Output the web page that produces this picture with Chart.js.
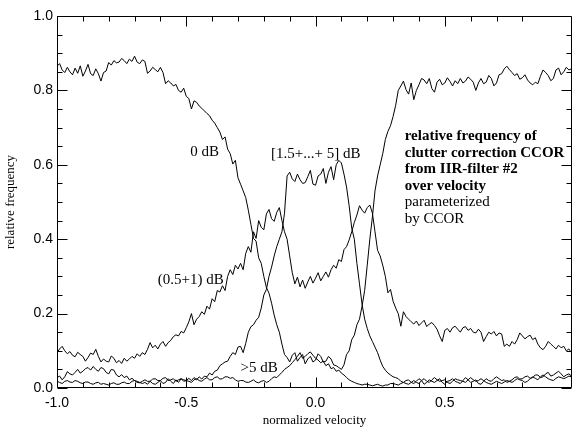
<!DOCTYPE html>
<html>
<head>
<meta charset="utf-8">
<script src="https://cdn.jsdelivr.net/npm/chart.js@4.4.1/dist/chart.umd.min.js"></script>
<style>
  html, body { margin: 0; padding: 0; background: #fff; }
  #wrap { width: 579px; height: 428px; position: relative; }
</style>
</head>
<body>
<div id="wrap"><canvas id="chart"></canvas></div>
<script>
// velocity bins (normalized)
const velocity = [
  -1.00, -0.99, -0.98, -0.97, -0.96, -0.95, -0.94, -0.93, -0.92, -0.91,
  -0.90, -0.89, -0.88, -0.87, -0.86, -0.85, -0.84, -0.83, -0.82, -0.81,
  -0.80, -0.79, -0.78, -0.77, -0.76, -0.75, -0.74, -0.73, -0.72, -0.71,
  -0.70, -0.69, -0.68, -0.67, -0.66, -0.65, -0.64, -0.63, -0.62, -0.61,
  -0.60, -0.59, -0.58, -0.57, -0.56, -0.55, -0.54, -0.53, -0.52, -0.51,
  -0.50, -0.49, -0.48, -0.47, -0.46, -0.45, -0.44, -0.43, -0.42, -0.41,
  -0.40, -0.39, -0.38, -0.37, -0.36, -0.35, -0.34, -0.33, -0.32, -0.31,
  -0.30, -0.29, -0.28, -0.27, -0.26, -0.25, -0.24, -0.23, -0.22, -0.21,
  -0.20, -0.19, -0.18, -0.17, -0.16, -0.15, -0.14, -0.13, -0.12, -0.11,
  -0.10, -0.09, -0.08, -0.07, -0.06, -0.05, -0.04, -0.03, -0.02, -0.01,
   0.00,  0.01,  0.02,  0.03,  0.04,  0.05,  0.06,  0.07,  0.08,  0.09,
   0.10,  0.11,  0.12,  0.13,  0.14,  0.15,  0.16,  0.17,  0.18,  0.19,
   0.20,  0.21,  0.22,  0.23,  0.24,  0.25,  0.26,  0.27,  0.28,  0.29,
   0.30,  0.31,  0.32,  0.33,  0.34,  0.35,  0.36,  0.37,  0.38,  0.39,
   0.40,  0.41,  0.42,  0.43,  0.44,  0.45,  0.46,  0.47,  0.48,  0.49,
   0.50,  0.51,  0.52,  0.53,  0.54,  0.55,  0.56,  0.57,  0.58,  0.59,
   0.60,  0.61,  0.62,  0.63,  0.64,  0.65,  0.66,  0.67,  0.68,  0.69,
   0.70,  0.71,  0.72,  0.73,  0.74,  0.75,  0.76,  0.77,  0.78,  0.79,
   0.80,  0.81,  0.82,  0.83,  0.84,  0.85,  0.86,  0.87,  0.88,  0.89,
   0.90,  0.91,  0.92,  0.93,  0.94,  0.95,  0.96,  0.97,  0.98,  0.99
];

// relative frequency per CCOR class
const ccor0dB = [
  0.865, 0.872, 0.855, 0.848, 0.862, 0.850, 0.842, 0.860, 0.846, 0.866,
  0.838, 0.852, 0.870, 0.845, 0.840, 0.858, 0.845, 0.825, 0.848, 0.852,
  0.875, 0.868, 0.880, 0.874, 0.876, 0.886, 0.880, 0.872, 0.884, 0.878,
  0.892, 0.876, 0.872, 0.882, 0.878, 0.846, 0.852, 0.862, 0.856, 0.850,
  0.862, 0.848, 0.818, 0.826, 0.820, 0.812, 0.816, 0.800, 0.795, 0.806,
  0.784, 0.778, 0.750, 0.772, 0.768, 0.758, 0.752, 0.745, 0.738, 0.732,
  0.720, 0.712, 0.700, 0.688, 0.668, 0.675, 0.642, 0.630, 0.602, 0.612,
  0.565, 0.548, 0.530, 0.512, 0.478, 0.440, 0.402, 0.395, 0.350, 0.335,
  0.300, 0.270, 0.255, 0.228, 0.196, 0.170, 0.150, 0.118, 0.090, 0.082,
  0.070, 0.088, 0.095, 0.072, 0.082, 0.090, 0.065, 0.078, 0.085, 0.070,
  0.075, 0.092, 0.085, 0.070, 0.072, 0.085, 0.078, 0.062, 0.060, 0.055,
  0.050, 0.062, 0.090, 0.100, 0.130, 0.142, 0.170, 0.185, 0.220, 0.262,
  0.330, 0.400, 0.460, 0.530, 0.570, 0.600, 0.630, 0.668, 0.690, 0.705,
  0.730, 0.760, 0.800, 0.812, 0.825, 0.802, 0.790, 0.820, 0.775, 0.800,
  0.815, 0.832, 0.828, 0.818, 0.832, 0.805, 0.795, 0.822, 0.830, 0.815,
  0.820, 0.834, 0.824, 0.812, 0.826, 0.818, 0.832, 0.820, 0.825, 0.836,
  0.830, 0.822, 0.800, 0.820, 0.832, 0.818, 0.822, 0.840, 0.832, 0.812,
  0.820, 0.842, 0.845, 0.858, 0.865, 0.856, 0.848, 0.840, 0.845, 0.830,
  0.834, 0.842, 0.828, 0.820, 0.815, 0.822, 0.818, 0.838, 0.855, 0.848,
  0.840, 0.826, 0.832, 0.855, 0.860, 0.842, 0.850, 0.862, 0.855, 0.858
];
const ccor05to1dB = [
  0.095, 0.105, 0.112, 0.100, 0.092, 0.098, 0.088, 0.084, 0.096, 0.090,
  0.085, 0.072, 0.082, 0.094, 0.090, 0.104, 0.085, 0.070, 0.078, 0.072,
  0.070, 0.086, 0.080, 0.068, 0.074, 0.066, 0.080, 0.072, 0.078, 0.085,
  0.080, 0.092, 0.085, 0.095, 0.090, 0.104, 0.122, 0.108, 0.115, 0.105,
  0.118, 0.125, 0.112, 0.122, 0.128, 0.138, 0.143, 0.140, 0.152, 0.148,
  0.162, 0.178, 0.200, 0.170, 0.185, 0.192, 0.205, 0.198, 0.220, 0.212,
  0.240, 0.232, 0.262, 0.258, 0.275, 0.262, 0.300, 0.318, 0.305, 0.330,
  0.320, 0.335, 0.318, 0.362, 0.380, 0.365, 0.420, 0.402, 0.450, 0.432,
  0.425, 0.468, 0.480, 0.455, 0.448, 0.472, 0.485, 0.450, 0.420, 0.400,
  0.355, 0.310, 0.280, 0.298, 0.272, 0.290, 0.268, 0.285, 0.300, 0.282,
  0.295, 0.310, 0.288, 0.300, 0.312, 0.298, 0.318, 0.330, 0.322, 0.345,
  0.340, 0.372, 0.380, 0.398, 0.420, 0.445, 0.465, 0.490, 0.478, 0.470,
  0.485, 0.492, 0.470, 0.420, 0.370, 0.355, 0.330, 0.300, 0.256, 0.265,
  0.233, 0.215, 0.200, 0.166, 0.205, 0.192, 0.185, 0.178, 0.172, 0.180,
  0.168, 0.175, 0.182, 0.165, 0.172, 0.176, 0.168, 0.158, 0.140, 0.125,
  0.155, 0.160, 0.150, 0.162, 0.166, 0.158, 0.150, 0.162, 0.165, 0.155,
  0.160, 0.150, 0.148, 0.158, 0.150, 0.125, 0.138, 0.150, 0.145, 0.152,
  0.140, 0.148, 0.145, 0.112, 0.118, 0.112, 0.125, 0.118, 0.130, 0.148,
  0.140, 0.132, 0.138, 0.142, 0.130, 0.135, 0.118, 0.108, 0.103, 0.112,
  0.125, 0.118, 0.112, 0.105, 0.115, 0.108, 0.112, 0.100, 0.105, 0.095
];
const ccor15to5dB = [
  0.028, 0.032, 0.022, 0.030, 0.044, 0.038, 0.035, 0.042, 0.050, 0.040,
  0.045, 0.052, 0.055, 0.048, 0.058, 0.050, 0.045, 0.055, 0.052, 0.042,
  0.038, 0.050, 0.048, 0.035, 0.030, 0.036, 0.028, 0.032, 0.022, 0.026,
  0.020, 0.018, 0.015, 0.012, 0.015, 0.010, 0.018, 0.012, 0.010, 0.015,
  0.020, 0.012, 0.015, 0.025, 0.018, 0.012, 0.022, 0.015, 0.025, 0.018,
  0.020, 0.026, 0.020, 0.028, 0.022, 0.030, 0.024, 0.032, 0.030, 0.040,
  0.035, 0.045, 0.048, 0.060, 0.065, 0.070, 0.072, 0.085, 0.095, 0.090,
  0.110, 0.112, 0.095, 0.120, 0.150, 0.165, 0.170, 0.182, 0.190, 0.215,
  0.250, 0.265, 0.300, 0.325, 0.355, 0.380, 0.400, 0.420, 0.470, 0.570,
  0.580, 0.562, 0.555, 0.575, 0.560, 0.550, 0.552, 0.568, 0.585, 0.548,
  0.545, 0.570, 0.575, 0.590, 0.550, 0.580, 0.595, 0.560, 0.600, 0.612,
  0.605, 0.575, 0.540, 0.490, 0.430, 0.400, 0.335, 0.280, 0.225, 0.185,
  0.160, 0.140, 0.125, 0.110, 0.095, 0.075, 0.058, 0.048, 0.040, 0.035,
  0.030, 0.028, 0.025, 0.018, 0.015, 0.020, 0.022, 0.015, 0.012, 0.018,
  0.025, 0.020, 0.010, 0.015, 0.022, 0.018, 0.015, 0.020, 0.025, 0.015,
  0.010, 0.018, 0.020, 0.025, 0.018, 0.015, 0.012, 0.020, 0.028, 0.022,
  0.015, 0.018, 0.022, 0.012, 0.010, 0.018, 0.025, 0.020, 0.018, 0.025,
  0.030, 0.025, 0.020, 0.022, 0.015, 0.018, 0.022, 0.028, 0.030, 0.024,
  0.025, 0.030, 0.032, 0.026, 0.028, 0.035, 0.035, 0.028, 0.030, 0.038,
  0.042, 0.032, 0.035, 0.040, 0.045, 0.038, 0.030, 0.035, 0.038, 0.032
];
const ccorAbove5dB = [
  0.018, 0.015, 0.012, 0.018, 0.020, 0.016, 0.015, 0.020, 0.018, 0.014,
  0.012, 0.016, 0.016, 0.012, 0.010, 0.014, 0.015, 0.010, 0.012, 0.010,
  0.008, 0.012, 0.014, 0.010, 0.010, 0.014, 0.016, 0.012, 0.012, 0.018,
  0.020, 0.015, 0.014, 0.018, 0.022, 0.018, 0.018, 0.024, 0.025, 0.020,
  0.020, 0.026, 0.028, 0.020, 0.022, 0.025, 0.018, 0.022, 0.025, 0.022,
  0.020, 0.018, 0.015, 0.022, 0.025, 0.020, 0.018, 0.024, 0.028, 0.022,
  0.022, 0.028, 0.030, 0.024, 0.025, 0.030, 0.030, 0.026, 0.028, 0.022,
  0.018, 0.020, 0.020, 0.016, 0.015, 0.018, 0.022, 0.016, 0.014, 0.018,
  0.020, 0.015, 0.018, 0.025, 0.030, 0.028, 0.035, 0.042, 0.050, 0.055,
  0.060, 0.068, 0.076, 0.085, 0.095, 0.080, 0.085, 0.092, 0.097, 0.088,
  0.080, 0.075, 0.068, 0.072, 0.060, 0.065, 0.052, 0.055, 0.045, 0.048,
  0.040, 0.035, 0.028, 0.022, 0.018, 0.015, 0.012, 0.010, 0.008, 0.010,
  0.010, 0.008, 0.006, 0.008, 0.010, 0.007, 0.005, 0.008, 0.008, 0.012,
  0.012, 0.010, 0.008, 0.012, 0.015, 0.012, 0.010, 0.015, 0.020, 0.015,
  0.012, 0.020, 0.025, 0.018, 0.015, 0.022, 0.028, 0.022, 0.018, 0.020,
  0.022, 0.015, 0.012, 0.018, 0.025, 0.022, 0.020, 0.018, 0.015, 0.022,
  0.028, 0.022, 0.018, 0.020, 0.025, 0.020, 0.015, 0.012, 0.010, 0.014,
  0.018, 0.015, 0.012, 0.016, 0.020, 0.018, 0.015, 0.020, 0.025, 0.022,
  0.020, 0.015, 0.018, 0.025, 0.030, 0.026, 0.022, 0.030, 0.035, 0.030,
  0.025, 0.022, 0.020, 0.026, 0.030, 0.028, 0.025, 0.028, 0.032, 0.030
];

// labelled tick values
const xTickLabels = [-1.0, -0.5, 0.0, 0.5];
const yTickLabels = [0.0, 0.2, 0.4, 0.6, 0.8, 1.0];

// curve labels: text, velocity, frequency
const curveLabels = [
  ["0 dB", -0.485, 0.635],
  ["[1.5+...+ 5] dB", -0.172, 0.63],
  ["(0.5+1) dB", -0.61, 0.29],
  [">5 dB", -0.29, 0.054]
];
const noteBold = [
  "relative frequency of",
  "clutter correction CCOR",
  "from IIR-filter #2",
  "over velocity"
];
const notePlain = ["parameterized", "by CCOR"];

const toPoints = (ys) => ys.map((y, i) => ({ x: velocity[i], y: y }));

const isOn = (v, step) => Math.abs(v / step - Math.round(v / step)) < 1e-6;
const fmt = (v) => (Math.round(v * 10) / 10).toFixed(1);

const series = [ccor0dB, ccor05to1dB, ccor15to5dB, ccorAbove5dB];

// box with inward ticks on all sides, plus the text annotations
const frameAndText = {
  id: "frameAndText",
  afterDraw(chart) {
    const { ctx, chartArea: a, scales } = chart;
    const xs = scales.x, ys = scales.y;
    const L = Math.round(a.left) + 0.5, R = Math.round(a.right) - 0.5;
    const T = Math.round(a.top) + 0.5, B = Math.round(a.bottom) - 0.5;
    ctx.save();
    ctx.strokeStyle = "#000";
    ctx.lineWidth = 1;
    ctx.beginPath();
    ctx.rect(L, T, R - L, B - T);
    xs.ticks.forEach((t) => {
      if (!isOn(t.value, 0.1)) return;
      const len = isOn(t.value, 0.5) ? 10 : 5;
      const px = Math.round(xs.getPixelForValue(t.value)) + 0.5;
      ctx.moveTo(px, B); ctx.lineTo(px, B - len);
      ctx.moveTo(px, T); ctx.lineTo(px, T + len);
    });
    ys.ticks.forEach((t) => {
      if (!isOn(t.value, 0.05)) return;
      const len = isOn(t.value, 0.2) ? 10 : 5;
      const py = Math.round(ys.getPixelForValue(t.value)) + 0.5;
      ctx.moveTo(L, py); ctx.lineTo(L + len, py);
      ctx.moveTo(R, py); ctx.lineTo(R - len, py);
    });
    ctx.stroke();

    ctx.fillStyle = "#000";
    ctx.textBaseline = "middle";
    ctx.textAlign = "left";
    ctx.font = '15px "Liberation Serif"';
    curveLabels.forEach(([txt, v, f]) => {
      ctx.fillText(txt, xs.getPixelForValue(v), ys.getPixelForValue(f));
    });

    const nx = xs.getPixelForValue(0.345);
    let ny = ys.getPixelForValue(0.677);
    ctx.font = 'bold 15px "Liberation Serif"';
    noteBold.forEach((s) => { ctx.fillText(s, nx, ny); ny += 16.5; });
    ctx.font = '15px "Liberation Serif"';
    notePlain.forEach((s) => { ctx.fillText(s, nx, ny); ny += 16.5; });
    ctx.restore();
  }
};

new Chart(document.getElementById("chart"), {
  type: "line",
  data: {
    datasets: series.map((s) => ({
      data: toPoints(s),
      borderColor: "#000",
      borderWidth: 1,
      pointRadius: 0,
      tension: 0,
      fill: false
    }))
  },
  options: {
    responsive: true,
    maintainAspectRatio: false,
    animation: false,
    layout: { padding: { top: 16, right: 0, bottom: 0, left: 0 } },
    plugins: { legend: { display: false }, tooltip: { enabled: false } },
    scales: {
      x: {
        type: "linear",
        min: -1.0,
        max: 0.992,
        grid: { display: false, drawTicks: false },
        border: { display: false },
        ticks: {
          stepSize: 0.1,
          autoSkip: false,
          maxRotation: 0,
          padding: 7,
          color: "#000",
          font: { family: "Liberation Sans", size: 14 },
          callback: (v) => (xTickLabels.some((t) => Math.abs(t - v) < 1e-6) ? fmt(v) : "")
        },
        title: {
          display: true,
          text: "normalized velocity",
          color: "#000",
          font: { family: "Liberation Serif", size: 13 },
          padding: { top: 0, bottom: 0 }
        },
        afterFit: (s) => { s.height = 40; }
      },
      y: {
        min: 0,
        max: 1.0,
        grid: { display: false, drawTicks: false },
        border: { display: false },
        ticks: {
          stepSize: 0.05,
          autoSkip: false,
          padding: 4,
          color: "#000",
          font: { family: "Liberation Sans", size: 14 },
          callback: (v) => (yTickLabels.some((t) => Math.abs(t - v) < 1e-6) ? fmt(v) : "")
        },
        title: {
          display: true,
          text: "relative frequency",
          color: "#000",
          font: { family: "Liberation Serif", size: 13 },
          padding: { top: 3, bottom: 0 }
        },
        afterFit: (s) => { s.width = 57; }
      }
    }
  },
  plugins: [frameAndText]
});
</script>
</body>
</html>
